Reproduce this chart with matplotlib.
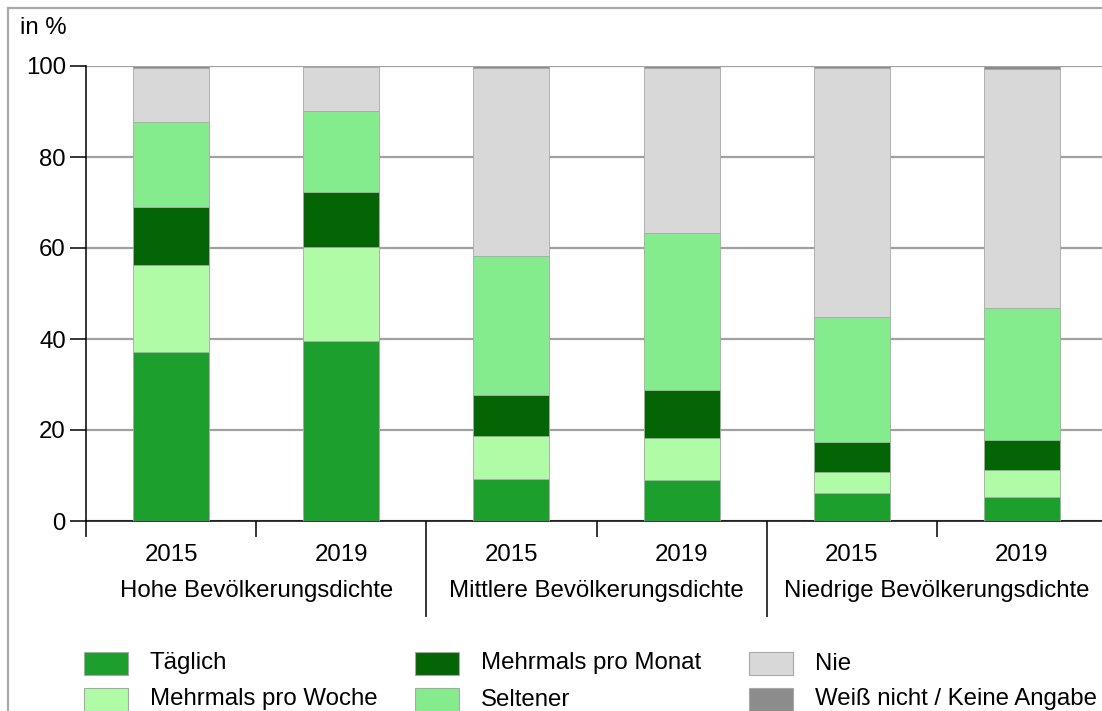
import matplotlib
matplotlib.use("Agg")
import matplotlib.pyplot as plt
from matplotlib.patches import Rectangle
from matplotlib.lines import Line2D
import numpy as np

plt.rcParams["font.family"] = ["Liberation Sans", "DejaVu Sans"]

years = ["2015", "2019", "2015", "2019", "2015", "2019"]
groups = ["Hohe Bevölkerungsdichte", "Mittlere Bevölkerungsdichte", "Niedrige Bevölkerungsdichte"]

labels = ["Täglich", "Mehrmals pro Woche", "Mehrmals pro Monat", "Seltener", "Nie",
          "Weiß nicht / Keine Angabe"]
colors = ["#1c9f2c", "#b0fca6", "#036503", "#84ec8c", "#d8d8d8", "#8c8c8c"]

# Anteile in %, je Balken (Hoch 2015, Hoch 2019, Mittel 2015, Mittel 2019, Niedrig 2015, Niedrig 2019)
taeglich = [37.1, 39.6, 9.2, 9.0, 6.2, 5.3]
woche = [19.2, 20.6, 9.5, 9.2, 4.6, 5.9]
monat = [12.7, 12.1, 9.0, 10.6, 6.6, 6.6]
seltener = [18.7, 17.8, 30.5, 34.5, 27.4, 29.0]
nie = [11.9, 9.7, 41.4, 36.3, 54.8, 52.5]
weiss_nicht = [0.4, 0.2, 0.4, 0.4, 0.4, 0.7]

series = [taeglich, woche, monat, seltener, nie, weiss_nicht]

FS = 17.3
W, H = 1102, 711
fig = plt.figure(figsize=(W / 100, H / 100), dpi=100)
ax = fig.add_axes([86 / W, 1 - 521 / H, 1021 / W, 455 / H])

x = np.arange(len(years))
bottom = np.zeros(len(years))
for vals, col in zip(series, colors):
    ax.bar(x, vals, 0.447, bottom=bottom, color=col, edgecolor="#a8a8a8",
           linewidth=0.6, zorder=3)
    bottom += np.array(vals)

ax.set_xlim(-0.5, 5.5)
ax.set_ylim(0, 100)
ax.set_yticks([0, 20, 40, 60, 80, 100])
ax.yaxis.grid(True, color="#a0a0a0", linewidth=1.6, zorder=0)
ax.set_axisbelow(True)
for s in ["top", "right"]:
    ax.spines[s].set_visible(False)
for s in ["left", "bottom"]:
    ax.spines[s].set_color("black")
    ax.spines[s].set_linewidth(1.1)
ax.tick_params(axis="y", length=11.5, width=1.1, pad=3, labelsize=FS)

# Trennstriche zwischen den Gruppen lang, zwischen den Jahren kurz
ax.set_xticks([-0.5, 0.5, 2.5, 4.5])
ax.set_xticks([1.5, 3.5], minor=True)
ax.tick_params(axis="x", which="major", length=11.5, width=1.1, labelbottom=False)
ax.tick_params(axis="x", which="minor", length=69, width=1.1, labelbottom=False)

tr = ax.get_xaxis_transform()
for xi, yr in zip(x, years):
    ax.text(xi, -34 / 455, yr, transform=tr, ha="center", va="center", fontsize=FS)
for gi, g in enumerate(groups):
    ax.text(2 * gi + 0.5, -70 / 455, g, transform=tr, ha="center", va="center",
            fontsize=FS)

fig.text(20 / W, 1 - 28 / H, "in %", ha="left", va="center", fontsize=FS)

# Legende: drei Spalten, zwei Zeilen
col_x = [84, 415, 749]
row_y = [652, 688]
for i, (lab, col) in enumerate(zip(labels, colors)):
    cx = col_x[i // 2]
    ry = row_y[i % 2]
    fig.patches.append(Rectangle((cx / W, 1 - (ry + 23) / H), 44 / W, 23 / H,
                                 transform=fig.transFigure, facecolor=col,
                                 edgecolor="#a8a8a8", linewidth=0.8))
    fig.text((cx + 66) / W, 1 - (ry + 11.5) / H, lab, ha="left", va="center",
             fontsize=FS)

# Rahmen oben und links
fig.add_artist(Line2D([8 / W, 1], [1 - 8 / H, 1 - 8 / H], color="#a8a8a8",
                      linewidth=1.6, transform=fig.transFigure))
fig.add_artist(Line2D([8 / W, 8 / W], [0, 1 - 8 / H], color="#a8a8a8",
                      linewidth=1.6, transform=fig.transFigure))

fig.savefig("out.png", dpi=100)
